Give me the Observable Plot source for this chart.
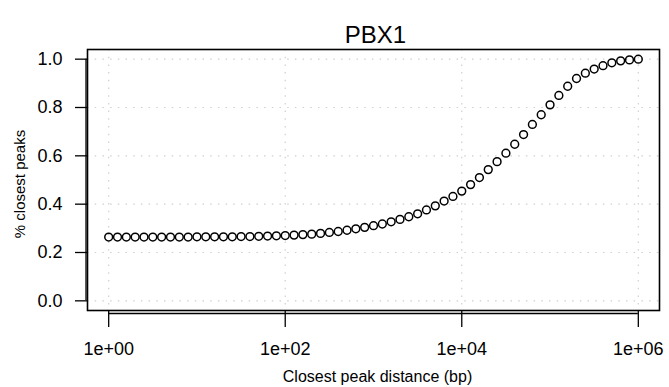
<!DOCTYPE html>
<html>
<head>
<meta charset="utf-8">
<script src="https://cdn.jsdelivr.net/npm/d3@7"></script>
<script src="https://cdn.jsdelivr.net/npm/@observablehq/plot@0.6"></script>
<style>
  html, body { margin: 0; padding: 0; background: white; }
</style>
</head>
<body>
<div id="chart"></div>
<script>
const titleText = "PBX1";
const xLabel = "Closest peak distance (bp)";
const yLabel = "% closest peaks";

const distance = [
  1, 1.259, 1.585, 1.995, 2.512, 3.162, 3.981, 5.012, 6.310, 7.943,
  10, 12.59, 15.85, 19.95, 25.12, 31.62, 39.81, 50.12, 63.10, 79.43,
  100, 125.9, 158.5, 199.5, 251.2, 316.2, 398.1, 501.2, 631.0, 794.3,
  1000, 1259, 1585, 1995, 2512, 3162, 3981, 5012, 6310, 7943,
  10000, 12589, 15849, 19953, 25119, 31623, 39811, 50119, 63096, 79433,
  100000, 125893, 158489, 199526, 251189, 316228, 398107, 501187, 630957, 794328,
  1000000
];
const fraction = [
  0.264, 0.264, 0.264, 0.264, 0.264, 0.264, 0.264, 0.264, 0.264, 0.264,
  0.265, 0.265, 0.265, 0.265, 0.265, 0.266, 0.266, 0.267, 0.268, 0.269,
  0.270, 0.272, 0.274, 0.276, 0.279, 0.283, 0.287, 0.292, 0.298, 0.304,
  0.311, 0.318, 0.327, 0.337, 0.348, 0.360, 0.376, 0.393, 0.413, 0.432,
  0.454, 0.481, 0.510, 0.543, 0.576, 0.611, 0.648, 0.688, 0.730, 0.770,
  0.811, 0.850, 0.888, 0.920, 0.942, 0.959, 0.973, 0.985, 0.993, 0.997,
  1.000
];

const xTicks = [1, 100, 10000, 1000000];
const xTickLabels = ["1e+00", "1e+02", "1e+04", "1e+06"];
const yTicks = [0, 0.2, 0.4, 0.6, 0.8, 1.0];
const yTickLabels = ["0.0", "0.2", "0.4", "0.6", "0.8", "1.0"];

const points = distance.map((d, i) => ({distance: d, fraction: fraction[i]}));
const xDomain = [Math.pow(10, -0.24), Math.pow(10, 6.24)];
const yDomain = [-0.04, 1.04];

const chart = Plot.plot({
  width: 669,
  height: 387,
  marginLeft: 87,
  marginRight: 10,
  marginTop: 49,
  marginBottom: 77,
  style: {fontFamily: "'Liberation Sans', Arial, Helvetica, sans-serif", background: "white", color: "black"},
  x: {type: "log", domain: xDomain},
  y: {domain: yDomain},
  marks: [
    Plot.gridX(xTicks, {stroke: "#cfcfcf", strokeOpacity: 1, strokeWidth: 1.2, strokeDasharray: "1.5,6.2"}),
    Plot.gridY(yTicks, {stroke: "#cfcfcf", strokeOpacity: 1, strokeWidth: 1.2, strokeDasharray: "1.5,6.2"}),
    Plot.frame({stroke: "black", strokeWidth: 1.6}),
    Plot.ruleY([yDomain[0]], {x1: xTicks[0], x2: xTicks[xTicks.length - 1], dy: 3, stroke: "black", strokeWidth: 1.3}),
    Plot.ruleX([xDomain[0]], {y1: yTicks[0], y2: yTicks[yTicks.length - 1], dx: -1.5, stroke: "black", strokeWidth: 1.3}),
    Plot.axisX(xTicks, {
      tickFormat: d => xTickLabels[xTicks.indexOf(d)],
      tickSize: 17, tickPadding: 15, fontSize: 18, strokeWidth: 1.3, label: null
    }),
    Plot.axisY(yTicks, {
      tickFormat: d => yTickLabels[yTicks.indexOf(d)],
      tickSize: 12, tickPadding: 13, fontSize: 18, strokeWidth: 1.3, label: null
    }),
    Plot.dot(points, {x: "distance", y: "fraction", r: 3.9, stroke: "black", strokeWidth: 1.5, fill: "none"}),
    Plot.text([titleText], {frameAnchor: "top", textAnchor: "middle", lineAnchor: "bottom", dy: -7, dx: 2, fontSize: 24, fill: "black"}),
    Plot.text([xLabel], {frameAnchor: "bottom", textAnchor: "middle", lineAnchor: "bottom", dy: 71, dx: 4, fontSize: 16, fill: "black"}),
    Plot.text([yLabel], {frameAnchor: "left", textAnchor: "middle", lineAnchor: "bottom", rotate: -90, dx: -63, dy: 4, fontSize: 15, fill: "black"})
  ]
});
document.getElementById("chart").appendChild(chart);
</script>
</body>
</html>
